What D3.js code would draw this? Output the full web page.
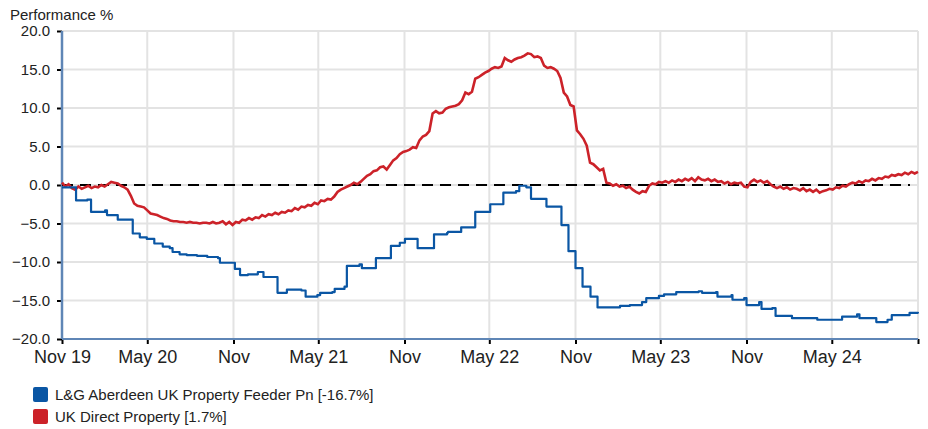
<!DOCTYPE html>
<html>
<head>
<meta charset="utf-8">
<script src="https://cdn.jsdelivr.net/npm/d3@7"></script>
<style>
  html, body { margin: 0; padding: 0; background: #fff; }
  svg { display: block; font-family: "Liberation Sans", Arial, sans-serif; }
</style>
</head>
<body>
<svg id="chart" width="928" height="429"></svg>
<script>
// ---------- DATA ----------
const yTicks = [-20, -15, -10, -5, 0, 5, 10, 15, 20];
const xTickDates = ["2019-11-01","2020-05-01","2020-11-01","2021-05-01","2021-11-01","2022-05-01","2022-11-01","2023-05-01","2023-11-01","2024-05-01","2024-11-01"];
const xTickLabels = ["Nov 19","May 20","Nov","May 21","Nov","May 22","Nov","May 23","Nov","May 24",""];

const seriesNames = ["L&G Aberdeen UK Property Feeder Pn [-16.7%]", "UK Direct Property [1.7%]"];
const seriesColors = ["#0a56a4", "#cc2229"];

// Blue series: step changes (date, value)
const blueDates = ["2019-11-01","2019-12-01","2019-12-25","2020-01-02","2020-02-01","2020-02-05","2020-02-28","2020-03-31","2020-04-15","2020-04-30","2020-05-16","2020-06-03","2020-06-18","2020-06-24","2020-07-09","2020-07-24","2020-08-15","2020-09-06","2020-09-29","2020-10-03","2020-11-04","2020-11-15","2020-12-02","2020-12-23","2021-01-04","2021-02-03","2021-02-23","2021-03-26","2021-04-04","2021-04-29","2021-05-05","2021-05-31","2021-06-05","2021-06-26","2021-07-01","2021-07-28","2021-08-02","2021-09-01","2021-10-03","2021-10-22","2021-11-02","2021-11-29","2022-01-03","2022-01-31","2022-02-02","2022-03-02","2022-04-01","2022-05-03","2022-05-31","2022-06-27","2022-07-04","2022-07-19","2022-07-29","2022-08-31","2022-10-02","2022-10-17","2022-11-01","2022-11-16","2022-12-03","2022-12-18","2023-02-04","2023-02-25","2023-03-23","2023-04-01","2023-04-28","2023-05-09","2023-06-04","2023-07-22","2023-07-29","2023-08-28","2023-08-31","2023-09-30","2023-10-02","2023-10-27","2023-11-01","2023-11-28","2023-12-03","2023-12-26","2024-01-02","2024-02-06","2024-03-31","2024-05-23","2024-06-24","2024-06-29","2024-08-04","2024-08-28","2024-09-06","2024-10-14","2024-11-01"];
const blueValues = [-0.3,-2.0,-1.9,-3.5,-3.3,-3.9,-4.5,-6.3,-6.8,-7.0,-7.6,-8.0,-8.2,-8.7,-9.0,-9.1,-9.2,-9.35,-9.5,-10.1,-10.9,-11.7,-11.6,-11.3,-11.95,-14.0,-13.6,-13.7,-14.5,-14.3,-14.0,-13.9,-13.5,-13.2,-10.5,-10.3,-10.8,-9.5,-7.9,-7.5,-7.0,-8.2,-6.4,-6.2,-6.1,-5.5,-3.5,-2.5,-1.0,-0.8,-0.1,-0.3,-1.8,-2.8,-5.2,-8.6,-10.8,-13.2,-14.5,-15.9,-15.7,-15.6,-15.2,-14.7,-14.4,-14.2,-13.9,-13.8,-14.0,-13.9,-14.5,-14.3,-14.9,-14.7,-15.6,-15.2,-16.1,-16.0,-17.0,-17.3,-17.5,-17.1,-16.8,-17.3,-17.8,-17.5,-16.9,-16.6,-16.7];

// Red series: weekly values starting 2019-11-01
const redStart = "2019-11-01";
const redValues = [
 0.3,-0.2,0.1,-0.4,-0.6,-0.2,-0.5,-0.3,-0.1,-0.4,-0.2,-0.3,0.0,-0.2,0.1,0.4,0.3,0.2,-0.1,-0.3,-0.6,
 -1.4,-2.4,-2.7,-2.8,-2.9,-3.3,-3.7,-3.8,-3.9,-4.1,-4.3,-4.4,-4.6,-4.7,-4.7,-4.8,-4.8,-4.9,-4.8,
 -4.9,-4.9,-5.0,-4.9,-4.9,-5.0,-4.8,-5.0,-4.9,-4.7,-5.1,-4.8,-5.2,-4.8,-4.9,-4.5,-4.6,-4.3,-4.5,-4.2,
 -4.3,-3.9,-4.1,-3.8,-3.9,-3.6,-3.8,-3.5,-3.6,-3.3,-3.4,-3.0,-3.2,-2.8,-2.9,-2.6,-2.7,-2.3,-2.5,-2.0,
 -2.1,-1.8,-1.9,-1.5,-0.9,-0.6,-0.4,-0.2,0.0,0.3,0.1,0.4,0.8,1.2,1.4,1.8,1.9,2.3,2.4,2.0,
 2.6,3.2,3.5,4.0,4.3,4.4,4.6,4.9,4.8,5.8,6.3,6.5,7.0,9.3,9.6,9.3,9.4,9.9,10.1,10.2,
 10.3,10.5,11.0,12.0,11.8,12.1,13.8,14.0,14.3,14.6,14.8,15.1,15.3,15.2,15.4,16.5,16.2,16.0,16.3,16.5,
 16.6,16.8,17.1,17.0,16.6,16.7,16.5,15.5,15.2,15.3,15.1,14.8,13.9,12.0,11.5,10.4,10.2,7.1,6.6,6.0,
 5.1,2.9,2.7,2.3,1.9,2.1,0.3,0.2,-0.1,0.1,-0.2,-0.1,-0.4,-0.2,-0.6,-0.9,-1.1,-0.8,-0.9,-0.1,
 0.2,0.1,0.4,0.3,0.5,0.3,0.6,0.4,0.7,0.5,0.8,0.6,0.9,0.5,1.0,0.7,0.6,0.8,0.5,0.7,
 0.4,0.5,0.2,0.4,0.1,0.3,0.2,0.3,-0.2,-0.3,0.4,0.7,0.4,0.6,0.3,0.5,0.1,-0.2,-0.4,-0.2,
 -0.5,-0.3,-0.6,-0.4,-0.5,-0.7,-0.4,-0.8,-0.6,-0.9,-0.6,-1.0,-0.8,-0.7,-0.5,-0.6,-0.3,-0.4,-0.1,-0.2,
 0.1,0.3,0.2,0.5,0.3,0.6,0.5,0.8,0.6,0.9,0.8,1.1,1.0,1.3,1.2,1.4,1.3,1.6,1.4,1.7,1.5,1.7
];

// ---------- CHART ----------
(function () {
const parse = d3.timeParse("%Y-%m-%d");
const svg = d3.select("#chart");
const pLeft = 62, pRight = 918, pTop = 31, pBottom = 339;

const x = d3.scaleTime()
  .domain([parse(xTickDates[0]), parse(xTickDates[xTickDates.length - 1])])
  .range([pLeft, pRight]);
const y = d3.scaleLinear().domain([-20, 20]).range([pBottom, pTop]);

const blue = blueDates.map((d, i) => ({ date: parse(d), value: blueValues[i] }));
const red = redValues.map((v, i) => ({ date: d3.timeDay.offset(parse(redStart), i * 7), value: v }));

// Gridlines
const grid = svg.append("g");
grid.selectAll("line.h").data(yTicks).join("line").attr("class", "h")
  .attr("x1", pLeft).attr("x2", pRight)
  .attr("y1", d => y(d)).attr("y2", d => y(d))
  .attr("stroke", "#e3e3e3").attr("stroke-width", 2);
grid.selectAll("line.v").data(xTickDates.map(parse)).join("line").attr("class", "v")
  .attr("x1", d => x(d)).attr("x2", d => x(d))
  .attr("y1", pTop).attr("y2", pBottom)
  .attr("stroke", "#e3e3e3").attr("stroke-width", 2);

// Y axis
const yAxis = d3.axisLeft(y).tickValues(yTicks).tickFormat(d3.format(".1f")).tickSize(5).tickPadding(7);
const gy = svg.append("g").attr("transform", `translate(${pLeft},0)`).call(yAxis);
gy.select(".domain").remove();
gy.selectAll(".tick line").attr("stroke", "#000").attr("stroke-width", 2);
gy.selectAll(".tick text").attr("fill", "#222").style("font-size", "15px")
  .style("font-family", '"Liberation Sans", Arial, sans-serif');

// X axis
const xAxis = d3.axisBottom(x).tickValues(xTickDates.map(parse))
  .tickFormat((d, i) => xTickLabels[i]).tickSize(5).tickPadding(6);
const gx = svg.append("g").attr("transform", `translate(0,${pBottom})`).call(xAxis);
gx.select(".domain").remove();
gx.selectAll(".tick line").attr("stroke", "#000").attr("stroke-width", 2);
gx.selectAll(".tick text").attr("fill", "#222").style("font-size", "18px")
  .style("font-family", '"Liberation Sans", Arial, sans-serif');

// Axis lines (blue-grey)
svg.append("line").attr("x1", pLeft).attr("x2", pLeft).attr("y1", pTop).attr("y2", pBottom)
  .attr("stroke", "#5f86b6").attr("stroke-width", 2.5);
svg.append("line").attr("x1", pLeft).attr("x2", pRight).attr("y1", pBottom).attr("y2", pBottom)
  .attr("stroke", "#5f86b6").attr("stroke-width", 2);

// Zero line
svg.append("line").attr("x1", pLeft).attr("x2", pRight - 8).attr("y1", y(0)).attr("y2", y(0))
  .attr("stroke", "#000").attr("stroke-width", 2).attr("stroke-dasharray", "11,7");

// Lines
const redLine = d3.line().x(d => x(d.date)).y(d => y(d.value));
const blueLine = d3.line().x(d => x(d.date)).y(d => y(d.value)).curve(d3.curveStepAfter);

svg.append("path").datum(red).attr("d", redLine)
  .attr("fill", "none").attr("stroke", seriesColors[1]).attr("stroke-width", 2.6).attr("stroke-linejoin", "miter");
svg.append("path").datum(blue).attr("d", blueLine)
  .attr("fill", "none").attr("stroke", seriesColors[0]).attr("stroke-width", 2.2).attr("stroke-linejoin", "round");

// Title
svg.append("text").attr("x", 10).attr("y", 20).text("Performance %")
  .attr("fill", "#222").style("font-size", "15px");

// Legend
const lg = svg.append("g");
seriesNames.forEach((name, i) => {
  const yy = 387 + i * 22;
  lg.append("rect").attr("x", 33).attr("y", yy).attr("width", 15).attr("height", 15)
    .attr("rx", 2).attr("fill", seriesColors[i]);
  lg.append("text").attr("x", 55).attr("y", yy + 13).text(name)
    .attr("fill", "#222").style("font-size", "15px");
});
})();
</script>
</body>
</html>
